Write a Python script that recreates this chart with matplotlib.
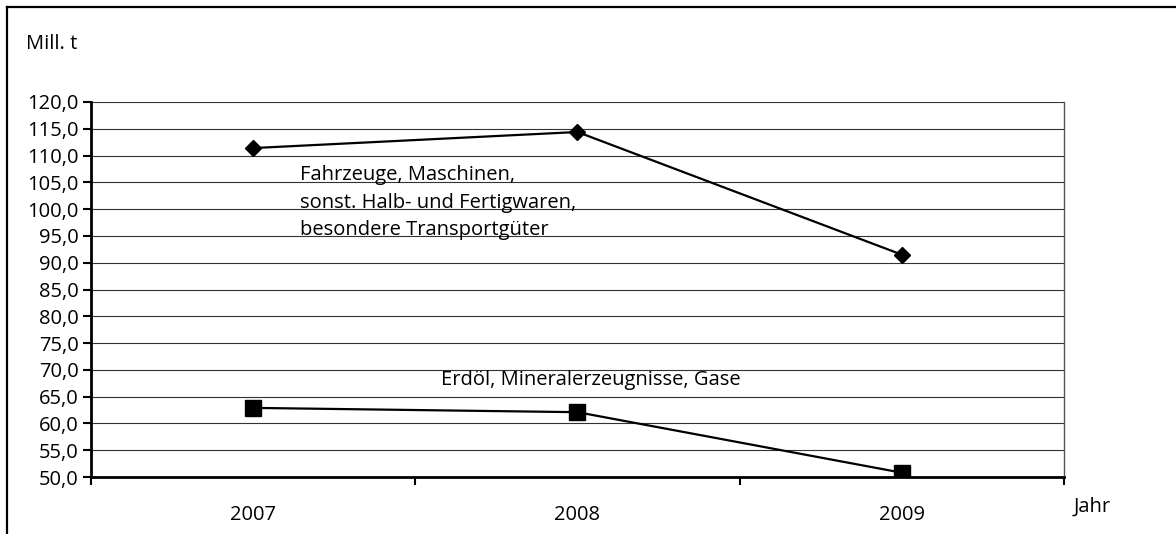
'''Güterverkehr nach Gütergruppen, 2007-2009'''

import matplotlib
matplotlib.use('Agg')
import matplotlib.pyplot as plt
from matplotlib.ticker import FixedLocator, FuncFormatter
from matplotlib.lines import Line2D

plt.rcParams['font.family'] = ['Open Sans', 'DejaVu Sans']

years = ['2007', '2008', '2009']
fahrzeuge = [111.4, 114.4, 91.5]
erdoel = [62.9, 62.1, 50.8]

label_fahrzeuge = 'Fahrzeuge, Maschinen,\nsonst. Halb- und Fertigwaren,\nbesondere Transportgüter'
label_erdoel = 'Erdöl, Mineralerzeugnisse, Gase'

FS = 14.5

fig = plt.figure(figsize=(11.76, 5.34), dpi=100)
ax = fig.add_axes([91 / 1176, 1 - 477 / 534, (1064 - 91) / 1176, (477 - 102) / 534])

x = list(range(len(years)))
ax.plot(x, fahrzeuge, color='black', lw=1.6, marker='D', markersize=8, zorder=3)
ax.plot(x, erdoel, color='black', lw=1.6, marker='s', markersize=11, zorder=3)

ax.set_xlim(-0.5, len(years) - 0.5)
ax.set_ylim(50, 120)

ax.yaxis.set_major_locator(FixedLocator([50 + 5 * i for i in range(15)]))
ax.yaxis.set_major_formatter(FuncFormatter(lambda v, p: ('%.1f' % v).replace('.', ',')))
ax.grid(axis='y', color='#333333', lw=0.8)
ax.set_axisbelow(True)

# category axis: ticks between categories, labels centred
ax.set_xticks([i - 0.5 for i in range(len(years) + 1)])
ax.set_xticklabels([])
ax.set_xticks(x, minor=True)
ax.set_xticklabels(years, minor=True, fontsize=FS)
ax.tick_params(axis='x', which='minor', length=0, pad=20)
ax.tick_params(axis='x', which='major', length=6, width=1.5, direction='out')
ax.tick_params(axis='y', length=6, width=1.5, direction='out', labelsize=FS, pad=3)

for side in ('left', 'bottom'):
    ax.spines[side].set_linewidth(2)
ax.spines['right'].set_color('#555555')
ax.spines['right'].set_linewidth(1)
ax.spines['top'].set_visible(False)

ax.text(0.145, 101.2, label_fahrzeuge, fontsize=FS, va='center', ha='left', linespacing=1.5)
ax.text(0.58, 68.1, label_erdoel, fontsize=FS, va='center', ha='left')

fig.text(26 / 1176, 1 - 44 / 534, 'Mill. t', fontsize=FS, va='center', ha='left')
fig.text(1074 / 1176, 1 - 507 / 534, 'Jahr', fontsize=FS, va='center', ha='left')

# frame around the chart (left and top only)
fig.add_artist(Line2D([7 / 1176, 7 / 1176], [0, 1 - 7 / 534], color='black', lw=1.6,
                      transform=fig.transFigure))
fig.add_artist(Line2D([7 / 1176, 1], [1 - 7 / 534, 1 - 7 / 534], color='black', lw=1.6,
                      transform=fig.transFigure))

fig.savefig('out.png', dpi=100)
